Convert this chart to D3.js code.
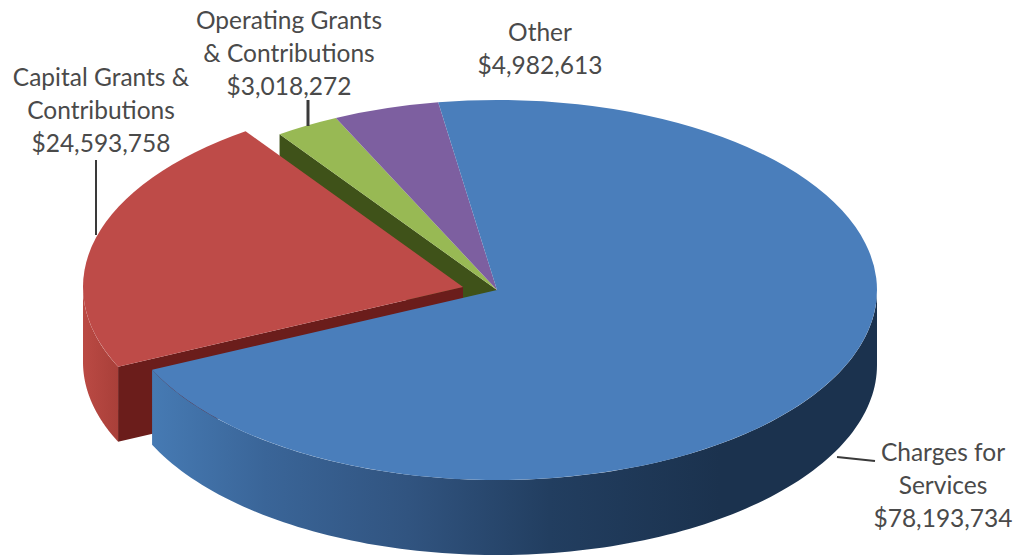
<!DOCTYPE html>
<html>
<head>
<meta charset="utf-8">
<script src="https://cdn.jsdelivr.net/npm/d3@7"></script>
<style>
  html, body { margin: 0; padding: 0; background: #fff; }
  svg { display: block; }
  text { font-family: Lato, "Open Sans", sans-serif; font-size: 24.5px; fill: #4a4a4a; text-anchor: middle; }
</style>
</head>
<body>
<svg id="chart" width="1021" height="556"></svg>
<script>
// Revenue sources, in drawing order around the pie
const categories = ["Charges for Services", "Capital Grants & Contributions", "Operating Grants & Contributions", "Other"];
const values = [78193734, 24593758, 3018272, 4982613];
const labelLines = [
  ["Charges for", "Services"],
  ["Capital Grants &", "Contributions"],
  ["Operating Grants", "& Contributions"],
  ["Other"]
];
const topColors = ["#4a7ebb", "#be4b48", "#98b954", "#7d5fa0"];
const labelCenters = [[943, 461], [101, 86], [289, 29], [540, 41]];
const leaders = [
  [[837, 457], [875, 461]],
  [[96, 160], [96, 235]],
  [[308, 100], [308, 126]],
  null
];
const leaderWidths = [2, 2, 3, 0];

const cx = 497, cy = 290, rx = 380, ry = 190, depth = 75;
const redOffset = [-34, -3];
const startDeg = -8.9;
const lineStep = 32.8;

const svg = d3.select("#chart");
const money = d3.format("$,");

const arcs = d3.pie().sort(null)
  .startAngle(startDeg * Math.PI / 180)
  .endAngle((startDeg + 360) * Math.PI / 180)(values);

// Side shading: lit on the far left, falling into shadow toward the right
const defs = svg.append("defs");
const blueSide = defs.append("linearGradient").attr("id", "blueSide")
  .attr("gradientUnits", "userSpaceOnUse")
  .attr("x1", 152).attr("x2", 720).attr("y1", 0).attr("y2", 0);
[[0, "#467ab3"], [0.2, "#3a6598"], [0.45, "#315480"], [0.7, "#223e60"], [1, "#1b324e"]]
  .forEach(([o, c]) => blueSide.append("stop").attr("offset", o).attr("stop-color", c));
const redSide = defs.append("linearGradient").attr("id", "redSide")
  .attr("gradientUnits", "userSpaceOnUse")
  .attr("x1", 82).attr("x2", 120).attr("y1", 0).attr("y2", 0);
[[0, "#bb4a44"], [1, "#a83f39"]]
  .forEach(([o, c]) => redSide.append("stop").attr("offset", o).attr("stop-color", c));

const rimPoint = (a, dx = 0, dy = 0) => [cx + dx + rx * Math.sin(a), cy + dy - ry * Math.cos(a)];

// Extruded outer wall between two angles
function wall(a0, a1, dx = 0, dy = 0) {
  const n = 120;
  const angles = d3.range(n + 1).map(i => a0 + (a1 - a0) * i / n);
  return d3.area()
    .x(a => rimPoint(a, dx, dy)[0])
    .y0(a => rimPoint(a, dx, dy)[1])
    .y1(a => rimPoint(a, dx, dy)[1] + depth)(angles);
}

// Flat cut face running from the apex down to the rim
function cutFace(a, dx = 0, dy = 0) {
  const p = rimPoint(a, dx, dy);
  const c = [cx + dx, cy + dy];
  return d3.line()([c, p, [p[0], p[1] + depth], [c[0], c[1] + depth]]) + "Z";
}

// Elliptical top face: a normal d3 arc squashed vertically
const topArc = d3.arc().innerRadius(0).outerRadius(rx);
function topFace(d, dx = 0, dy = 0, fill) {
  svg.append("g")
    .attr("transform", `translate(${cx + dx},${cy + dy}) scale(1,${ry / rx})`)
    .append("path").attr("d", topArc(d)).attr("fill", fill);
}

const [charges, capital, operating, other] = arcs;
const [ox, oy] = redOffset;

// Painted back to front
svg.append("path").attr("d", cutFace(operating.startAngle)).attr("fill", "#3f5219");
topFace(operating, 0, 0, topColors[2]);
topFace(other, 0, 0, topColors[3]);

svg.append("path").attr("d", cutFace(capital.startAngle, ox, oy)).attr("fill", "#6b1d1b");
svg.append("path").attr("d", wall(capital.startAngle, 1.5 * Math.PI, ox, oy)).attr("fill", "url(#redSide)");
topFace(capital, ox, oy, topColors[1]);

svg.append("path").attr("d", wall(Math.PI / 2, charges.endAngle)).attr("fill", "url(#blueSide)");
topFace(charges, 0, 0, topColors[0]);

// Leader lines
leaders.forEach((pts, i) => {
  if (!pts) return;
  svg.append("path").attr("d", d3.line()(pts))
    .attr("fill", "none").attr("stroke", "#3a3a3a").attr("stroke-width", leaderWidths[i]);
});

// Category labels with their amounts beneath
categories.forEach((name, i) => {
  const lines = [...labelLines[i], money(values[i])];
  const [x, y] = labelCenters[i];
  const t = svg.append("text").attr("aria-label", name);
  lines.forEach((s, j) => t.append("tspan").attr("x", x).attr("y", y + j * lineStep).text(s));
});
</script>
</body>
</html>
